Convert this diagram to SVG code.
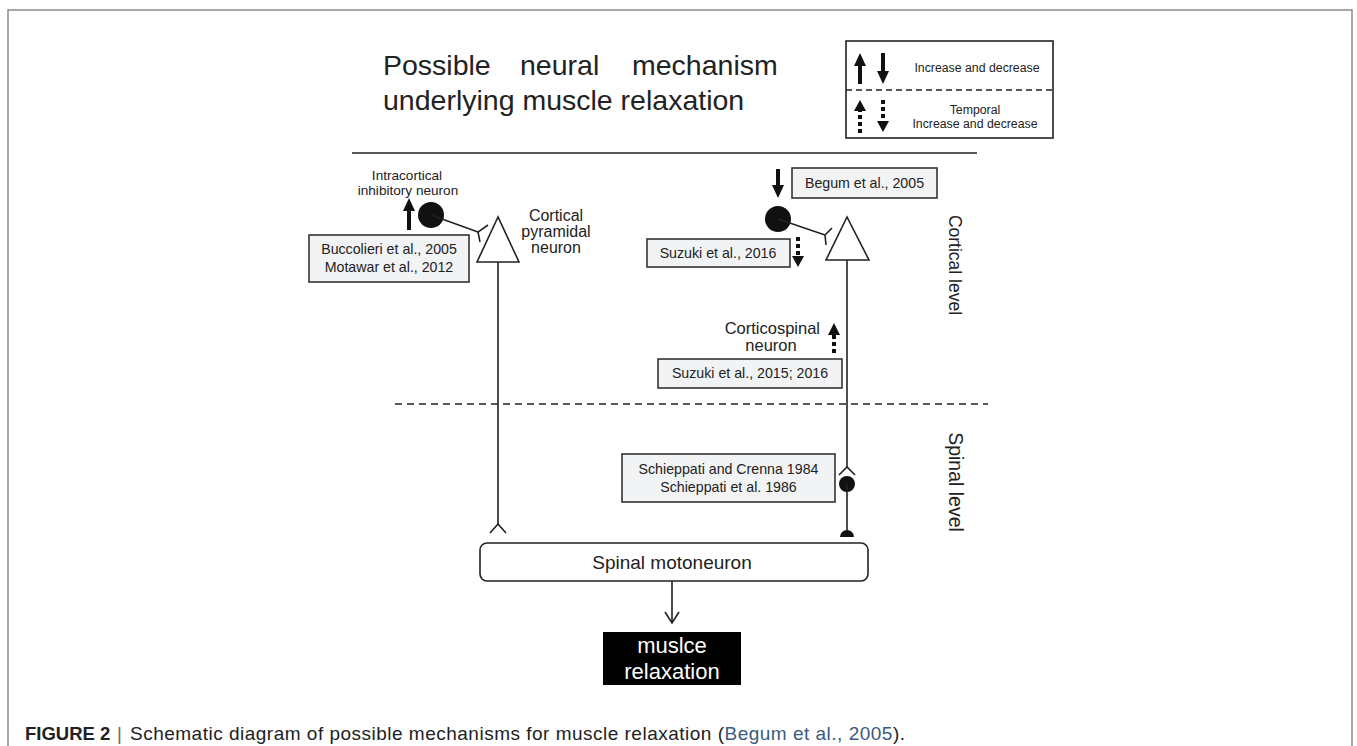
<svg xmlns="http://www.w3.org/2000/svg" width="1357" height="746" viewBox="0 0 1357 746">
<defs>
<style>
text{font-family:"Liberation Sans",Arial,sans-serif;fill:#222}
.ln{stroke:#222;stroke-width:1.6;fill:none}
.box{fill:#f2f3f4;stroke:#333;stroke-width:1.6}
.ref{font-size:14.2px;text-anchor:middle}
.thick{stroke:#111;stroke-width:4;fill:none}
.dot{stroke:#111;stroke-width:4;stroke-dasharray:4 3;fill:none}
.head{fill:#111}
</style>
</defs>
<rect width="1357" height="746" fill="#fff"/>
<path d="M8,760 V10 H1352 V760" fill="none" stroke="#8a8a8a" stroke-width="1.5"/>

<g id="title">
<text font-size="28.5" y="75"><tspan x="383">Possible</tspan><tspan x="520">neural</tspan><tspan x="632">mechanism</tspan></text>
<text font-size="28.5" x="383" y="110">underlying muscle relaxation</text>
</g>

<g id="legend">
<rect x="846" y="41" width="207" height="97" fill="#fff" stroke="#222" stroke-width="1.6"/>
<line x1="846" y1="90" x2="1053" y2="90" stroke="#222" stroke-width="1.5" stroke-dasharray="6 4"/>
<line x1="860" y1="84" x2="860" y2="64" class="thick"/>
<path class="head" d="M854,66 L860,53 L866,66 Z"/>
<line x1="883" y1="53" x2="883" y2="73" class="thick"/>
<path class="head" d="M877,71 L883,84 L889,71 Z"/>
<text font-size="12.3" x="977" y="72" text-anchor="middle">Increase and decrease</text>
<line x1="860" y1="133" x2="860" y2="110" class="dot"/>
<path class="head" d="M854,111 L860,100 L866,111 Z"/>
<line x1="883" y1="100" x2="883" y2="121" class="dot"/>
<path class="head" d="M877,121 L883,132 L889,121 Z"/>
<text font-size="12.3" x="975" y="114" text-anchor="middle">Temporal</text>
<text font-size="12.3" x="975" y="128" text-anchor="middle">Increase and decrease</text>
</g>

<g id="dividers">
<line x1="352" y1="153" x2="977" y2="153" stroke="#222" stroke-width="1.6"/>
<line x1="395" y1="404" x2="988" y2="404" stroke="#222" stroke-width="1.5" stroke-dasharray="7 5"/>
</g>

<g id="level-labels">
<text font-size="17.5" transform="translate(949,265) rotate(90)" text-anchor="middle">Cortical level</text>
<text font-size="19.5" transform="translate(949,482) rotate(90)" text-anchor="middle">Spinal level</text>
</g>

<g id="left-inhibitory">
<text font-size="13.6" x="407" y="180" text-anchor="middle">Intracortical</text>
<text font-size="13.6" x="408" y="195" text-anchor="middle">inhibitory neuron</text>
<circle cx="431" cy="215" r="13" fill="#111"/>
<line x1="409" y1="230" x2="409" y2="209" class="thick"/>
<path class="head" d="M403,211 L409,198 L415,211 Z"/>
</g>

<g id="left-pyramidal">
<path d="M498,217 L477,262 L519,262 Z" fill="#fff" stroke="#222" stroke-width="1.6"/>
<text font-size="16" x="556" y="221" text-anchor="middle">Cortical</text>
<text font-size="16" x="556" y="237" text-anchor="middle">pyramidal</text>
<text font-size="16" x="556" y="253" text-anchor="middle">neuron</text>
</g>

<g id="ref-buccolieri">
<rect class="box" x="309" y="235" width="160" height="47"/>
<text class="ref" x="389" y="254">Buccolieri et al., 2005</text>
<text class="ref" x="389" y="272">Motawar et al., 2012</text>
</g>

<g id="right-inhibitory">
<circle cx="778" cy="219" r="13" fill="#111"/>
<line x1="778" y1="169" x2="778" y2="187" class="thick"/>
<path class="head" d="M772,185 L778,198 L784,185 Z"/>
<line x1="798" y1="237" x2="798" y2="256" class="dot"/>
<path class="head" d="M792,256 L798,267 L804,256 Z"/>
</g>

<g id="ref-begum">
<rect class="box" x="792" y="168" width="145" height="30"/>
<text class="ref" x="864.5" y="188">Begum et al., 2005</text>
</g>

<g id="ref-suzuki2016">
<rect class="box" x="647" y="239" width="143" height="28"/>
<text class="ref" x="718" y="258">Suzuki et al., 2016</text>
</g>

<g id="right-pyramidal">
<path d="M847,217 L826,260 L869,260 Z" fill="#fff" stroke="#222" stroke-width="1.6"/>
</g>

<g id="corticospinal">
<text font-size="16.5" x="820" y="334" text-anchor="end">Corticospinal</text>
<text font-size="16.5" x="771" y="351" text-anchor="middle">neuron</text>
<line x1="834" y1="353" x2="834" y2="334" class="dot"/>
<path class="head" d="M828,335 L834,323 L840,335 Z"/>
</g>

<g id="ref-suzuki2015">
<rect class="box" x="658" y="359" width="184" height="29"/>
<text class="ref" x="750" y="378">Suzuki et al., 2015; 2016</text>
</g>

<g id="ref-schieppati">
<rect class="box" x="622" y="454" width="213" height="48"/>
<text class="ref" x="728.5" y="474">Schieppati and Crenna 1984</text>
<text class="ref" x="728.5" y="492">Schieppati et al. 1986</text>
</g>

<g id="spinal-motoneuron">
<rect x="480" y="543" width="388" height="38" rx="7" fill="#fff" stroke="#222" stroke-width="1.6"/>
<text font-size="19" x="672" y="569" text-anchor="middle">Spinal motoneuron</text>
</g>

<g id="muscle-relaxation">
<rect x="603" y="632" width="138" height="53" fill="#000"/>
<text font-size="22" x="672" y="653" text-anchor="middle" style="fill:#fff">muslce</text>
<text font-size="22" x="672" y="679" text-anchor="middle" style="fill:#fff">relaxation</text>
</g>

<g id="connectors">
<path class="ln" d="M431,215 L478,232"/>
<path class="ln" d="M488,225 L478,232 L480,242"/>
<path class="ln" d="M778,219 L825,235"/>
<path class="ln" d="M832,228 L825,235 L826,245"/>
<path class="ln" d="M498,262 V524"/>
<path class="ln" d="M490,533 L498,524 L506,533"/>
<path class="ln" d="M847,260 V467"/>
<path class="ln" d="M839,475 L847,467 L855,475"/>
<circle cx="847" cy="484" r="8" fill="#111"/>
<path class="ln" d="M847,484 V531"/>
<path d="M840,537 A7,7 0 0 1 854,537 Z" fill="#111"/>
<path class="ln" d="M672,581 V622"/>
<path class="ln" d="M665,612 L672,623 L679,612"/>
</g>

<g id="caption">
<text font-size="18.5" x="25" y="740" font-weight="bold">FIGURE 2</text>
<text font-size="18.5" x="117" y="740" style="fill:#666">|</text>
<text font-size="19" x="130" y="740" textLength="775" lengthAdjust="spacing">Schematic diagram of possible mechanisms for muscle relaxation (<tspan style="fill:#3a5a80">Begum et al., 2005</tspan>).</text>
</g>
</svg>
